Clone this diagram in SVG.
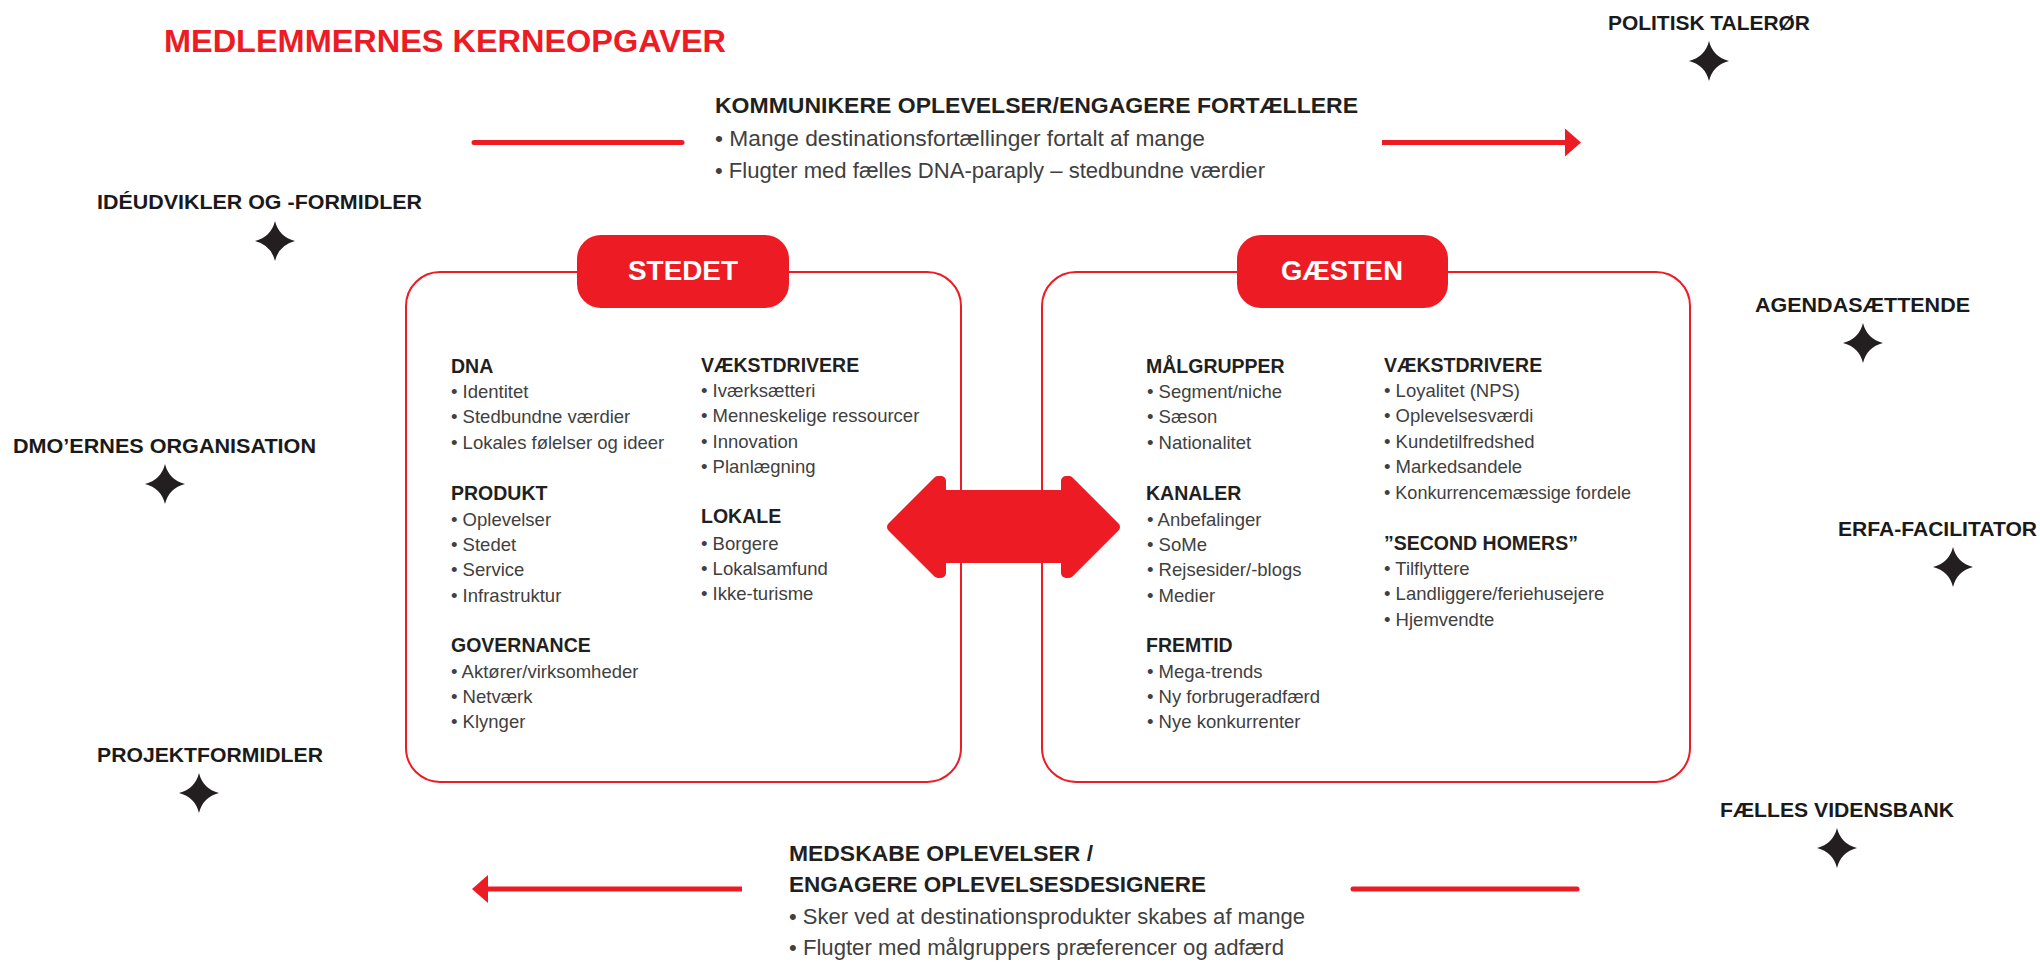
<svg xmlns="http://www.w3.org/2000/svg" width="2040" height="962" viewBox="0 0 2040 962">
  <style>
    .title { font-family: "Liberation Sans", Arial, sans-serif; font-weight: 700; font-size: 32px; fill: #ED1C24; }
    .role { font-family: "Liberation Sans", Arial, sans-serif; font-weight: 700; font-size: 20.5px; fill: #1a1a1a; }
    .flowhead { font-family: "Liberation Sans", Arial, sans-serif; font-weight: 700; font-size: 22.5px; fill: #231f20; }
    .flowtext { font-family: "Liberation Sans", Arial, sans-serif; font-size: 22.5px; fill: #404040; }
    .pill { fill: #ED1C24; }
    .pilltext { font-family: "Liberation Sans", Arial, sans-serif; font-weight: 700; font-size: 28px; fill: #ffffff; text-anchor: middle; }
    .frame { fill: #ffffff; stroke: #ED1C24; stroke-width: 2; }
    .h { font-family: "Liberation Sans", Arial, sans-serif; font-weight: 700; font-size: 19.5px; fill: #231f20; }
    .b { font-family: "Liberation Sans", Arial, sans-serif; font-size: 18.5px; fill: #404040; }
    .flow { stroke: #ED1C24; stroke-width: 5; fill: none; }
    .star { fill: #231f20; }
  </style>
  <defs>
    <marker id="head" viewBox="0 0 16 28" refX="0" refY="14" markerWidth="16" markerHeight="28" markerUnits="userSpaceOnUse" orient="auto">
      <path d="M0,0 L16,14 L0,28 Z" fill="#ED1C24"/>
    </marker>
    <path id="sparkle" class="star" d="M0,-20 Q4,-4 20,0 Q4,4 0,20 Q-4,4 -20,0 Q-4,-4 0,-20 Z"/>
  </defs>

  <rect width="2040" height="962" fill="#ffffff"/>

  <g id="title">
    <text class="title" x="164" y="52" textLength="562" lengthAdjust="spacingAndGlyphs">MEDLEMMERNES KERNEOPGAVER</text>
  </g>

  <!-- flow arrows between the two member roles -->
  <g id="connectors">
    <line class="flow" x1="474" y1="142.5" x2="682" y2="142.5" stroke-linecap="round"/>
    <line class="flow" x1="1382" y1="142.5" x2="1565" y2="142.5" marker-end="url(#head)"/>
    <line class="flow" x1="742" y1="889" x2="488" y2="889" marker-end="url(#head)"/>
    <line class="flow" x1="1353" y1="889" x2="1577" y2="889" stroke-linecap="round"/>
  </g>

  <g id="flow-top">
    <text class="flowhead" x="715" y="113" textLength="643" lengthAdjust="spacingAndGlyphs">KOMMUNIKERE OPLEVELSER/ENGAGERE FORTÆLLERE</text>
    <text class="flowtext" x="715" y="146" textLength="490" lengthAdjust="spacingAndGlyphs">• Mange destinationsfortællinger fortalt af mange</text>
    <text class="flowtext" x="715" y="178" textLength="550" lengthAdjust="spacingAndGlyphs">• Flugter med fælles DNA-paraply – stedbundne værdier</text>
  </g>

  <g id="flow-bottom">
    <text class="flowhead" x="789" y="861" textLength="304" lengthAdjust="spacingAndGlyphs">MEDSKABE OPLEVELSER /</text>
    <text class="flowhead" x="789" y="892" textLength="417" lengthAdjust="spacingAndGlyphs">ENGAGERE OPLEVELSESDESIGNERE</text>
    <text class="flowtext" x="789" y="924" textLength="516" lengthAdjust="spacingAndGlyphs">• Sker ved at destinationsprodukter skabes af mange</text>
    <text class="flowtext" x="789" y="955" textLength="495" lengthAdjust="spacingAndGlyphs">• Flugter med målgruppers præferencer og adfærd</text>
  </g>

  <g id="stedet">
    <rect class="frame" x="406" y="272" width="555" height="510" rx="34"/>
    <rect class="pill" x="577" y="235" width="212" height="73" rx="24"/>
    <text class="pilltext" x="683" y="280" textLength="110" lengthAdjust="spacingAndGlyphs">STEDET</text>
    <text class="h" x="451" y="373">DNA</text>
    <text class="b" x="451" y="398">• Identitet</text>
    <text class="b" x="451" y="423">• Stedbundne værdier</text>
    <text class="b" x="451" y="449">• Lokales følelser og ideer</text>
    <text class="h" x="451" y="500">PRODUKT</text>
    <text class="b" x="451" y="526">• Oplevelser</text>
    <text class="b" x="451" y="551">• Stedet</text>
    <text class="b" x="451" y="576">• Service</text>
    <text class="b" x="451" y="602">• Infrastruktur</text>
    <text class="h" x="451" y="652">GOVERNANCE</text>
    <text class="b" x="451" y="678">• Aktører/virksomheder</text>
    <text class="b" x="451" y="703">• Netværk</text>
    <text class="b" x="451" y="728">• Klynger</text>
    <text class="h" x="701" y="372">VÆKSTDRIVERE</text>
    <text class="b" x="701" y="397">• Iværksætteri</text>
    <text class="b" x="701" y="422">• Menneskelige ressourcer</text>
    <text class="b" x="701" y="448">• Innovation</text>
    <text class="b" x="701" y="473">• Planlægning</text>
    <text class="h" x="701" y="523">LOKALE</text>
    <text class="b" x="701" y="550">• Borgere</text>
    <text class="b" x="701" y="575">• Lokalsamfund</text>
    <text class="b" x="701" y="600">• Ikke-turisme</text>
  </g>

  <g id="gaesten">
    <rect class="frame" x="1042" y="272" width="648" height="510" rx="34"/>
    <rect class="pill" x="1237" y="235" width="211" height="73" rx="24"/>
    <text class="pilltext" x="1342" y="280" textLength="122" lengthAdjust="spacingAndGlyphs">GÆSTEN</text>
    <text class="h" x="1146" y="373">MÅLGRUPPER</text>
    <text class="b" x="1147" y="398">• Segment/niche</text>
    <text class="b" x="1147" y="423">• Sæson</text>
    <text class="b" x="1147" y="449">• Nationalitet</text>
    <text class="h" x="1146" y="500">KANALER</text>
    <text class="b" x="1147" y="526">• Anbefalinger</text>
    <text class="b" x="1147" y="551">• SoMe</text>
    <text class="b" x="1147" y="576">• Rejsesider/-blogs</text>
    <text class="b" x="1147" y="602">• Medier</text>
    <text class="h" x="1146" y="652">FREMTID</text>
    <text class="b" x="1147" y="678">• Mega-trends</text>
    <text class="b" x="1147" y="703">• Ny forbrugeradfærd</text>
    <text class="b" x="1147" y="728">• Nye konkurrenter</text>
    <text class="h" x="1384" y="372">VÆKSTDRIVERE</text>
    <text class="b" x="1384" y="397">• Loyalitet (NPS)</text>
    <text class="b" x="1384" y="422">• Oplevelsesværdi</text>
    <text class="b" x="1384" y="448">• Kundetilfredshed</text>
    <text class="b" x="1384" y="473">• Markedsandele</text>
    <text class="b" x="1384" y="499" textLength="247" lengthAdjust="spacingAndGlyphs">• Konkurrencemæssige fordele</text>
    <text class="h" x="1384" y="550">”SECOND HOMERS”</text>
    <text class="b" x="1384" y="575">• Tilflyttere</text>
    <text class="b" x="1384" y="600">• Landliggere/feriehusejere</text>
    <text class="b" x="1384" y="626">• Hjemvendte</text>
  </g>

  <!-- two-headed exchange arrow, corners rounded by a matching stroke -->
  <g id="exchange">
    <path d="M892,527 L938,481 L941,481 L941,495 L1066,495 L1066,481 L1069,481 L1115,527 L1069,573 L1066,573 L1066,558 L941,558 L941,573 L938,573 Z" fill="#ED1C24" stroke="#ED1C24" stroke-width="10" stroke-linejoin="round"/>
  </g>

  <g id="role-politisk">
    <text class="role" x="1608" y="30" textLength="202" lengthAdjust="spacingAndGlyphs">POLITISK TALERØR</text>
    <use href="#sparkle" x="1709" y="61"/>
  </g>
  <g id="role-ideudvikler">
    <text class="role" x="97" y="209" textLength="325" lengthAdjust="spacingAndGlyphs">IDÉUDVIKLER OG -FORMIDLER</text>
    <use href="#sparkle" x="275" y="241"/>
  </g>
  <g id="role-agenda">
    <text class="role" x="1755" y="312" textLength="215" lengthAdjust="spacingAndGlyphs">AGENDASÆTTENDE</text>
    <use href="#sparkle" x="1863" y="343"/>
  </g>
  <g id="role-dmo">
    <text class="role" x="13" y="453" textLength="303" lengthAdjust="spacingAndGlyphs">DMO’ERNES ORGANISATION</text>
    <use href="#sparkle" x="165" y="484"/>
  </g>
  <g id="role-erfa">
    <text class="role" x="1838" y="536" textLength="199" lengthAdjust="spacingAndGlyphs">ERFA-FACILITATOR</text>
    <use href="#sparkle" x="1953" y="567"/>
  </g>
  <g id="role-projekt">
    <text class="role" x="97" y="762" textLength="226" lengthAdjust="spacingAndGlyphs">PROJEKTFORMIDLER</text>
    <use href="#sparkle" x="199" y="793"/>
  </g>
  <g id="role-videnbank">
    <text class="role" x="1720" y="817" textLength="234" lengthAdjust="spacingAndGlyphs">FÆLLES VIDENSBANK</text>
    <use href="#sparkle" x="1837" y="848"/>
  </g>
</svg>
